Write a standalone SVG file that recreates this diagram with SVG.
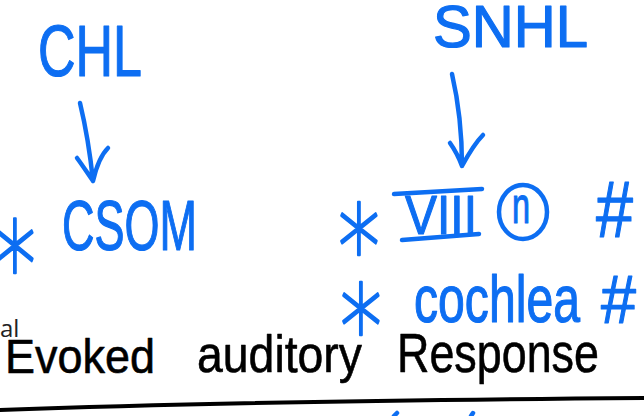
<svg xmlns="http://www.w3.org/2000/svg" width="644" height="416" viewBox="0 0 644 416">
<defs>
<style>
.ink{fill:#0d6ef2;stroke:#0d6ef2;stroke-width:1.2;stroke-linejoin:round;font-family:"Liberation Sans",Arial,sans-serif}
.star{font-family:"DejaVu Sans",sans-serif;font-weight:200;stroke-width:2.6}
.blk{fill:#000;stroke:#000;stroke-width:0.6;stroke-linejoin:round;font-family:"Liberation Sans",Arial,sans-serif}
.pen{fill:none;stroke:#0d6ef2;stroke-width:4.5;stroke-linecap:round;stroke-linejoin:round}
.typed{fill:#222;font-family:"Open Sans","Liberation Sans",sans-serif}
</style>
</defs>
<rect width="644" height="416" fill="#fff"/>
<g id="chl">
<text class="ink" x="38" y="76" font-size="72" textLength="104" lengthAdjust="spacingAndGlyphs">CHL</text>
</g>
<g id="snhl">
<text class="ink" x="433" y="47" font-size="60" textLength="155" lengthAdjust="spacingAndGlyphs">SNHL</text>
</g>
<g id="csom">
<text class="ink" y="250"><tspan class="star" x="-6" y="307" font-size="120" textLength="42" lengthAdjust="spacingAndGlyphs">*</tspan><tspan x="62" y="250" font-size="70" textLength="135" lengthAdjust="spacingAndGlyphs">CSOM</tspan></text>
</g>
<g id="viii">
<text class="ink" y="234"><tspan class="star" x="338" y="288" font-size="116" textLength="42" lengthAdjust="spacingAndGlyphs">*</tspan><tspan x="405" y="234" font-size="56" textLength="72" lengthAdjust="spacingAndGlyphs">VIII</tspan></text>
<path class="pen" d="M394,194 L482,189 M402,240 L479,234"/>
<ellipse class="pen" cx="523" cy="212" rx="24" ry="27"/>
<text class="ink" x="512" y="223" font-size="52" textLength="18" lengthAdjust="spacingAndGlyphs">n</text>
<text class="ink" x="596" y="237" font-size="80" textLength="37" lengthAdjust="spacingAndGlyphs">#</text>
</g>
<g id="cochlea">
<text class="ink" y="322"><tspan class="star" x="340" y="368" font-size="116" textLength="42" lengthAdjust="spacingAndGlyphs">*</tspan><tspan x="414" y="322" font-size="67" textLength="166" lengthAdjust="spacingAndGlyphs">cochlea</tspan></text>
<text class="ink" x="601" y="323" font-size="68" textLength="35" lengthAdjust="spacingAndGlyphs">#</text>
</g>
<g id="connectors">
<path class="pen" d="M80,103 C86,128 90,152 93,181 M77,158 C83,166 88,174 93,181 C96,168 100,156 108,148"/>
<path class="pen" d="M452,74 C458,100 462,130 462,166 M450,143 C455,150 459,158 462,166 C468,155 474,144 483,135"/>
</g>
<g id="notes">
<text class="typed" x="0" y="337" font-size="24">al</text>
<text class="blk" x="5" y="373" font-size="48" textLength="150" lengthAdjust="spacingAndGlyphs">Evoked</text>
<text class="blk" x="197" y="372" font-size="52" textLength="165" lengthAdjust="spacingAndGlyphs">auditory</text>
<text class="blk" x="397" y="372" font-size="56" textLength="202" lengthAdjust="spacingAndGlyphs">Response</text>
<path d="M0,410 Q250,401 644,398" fill="none" stroke="#000" stroke-width="4" stroke-linecap="round"/>
<path class="pen" d="M394,416 L397,413 M471,416 L473,413" stroke-width="3.5"/>
</g>
</svg>
